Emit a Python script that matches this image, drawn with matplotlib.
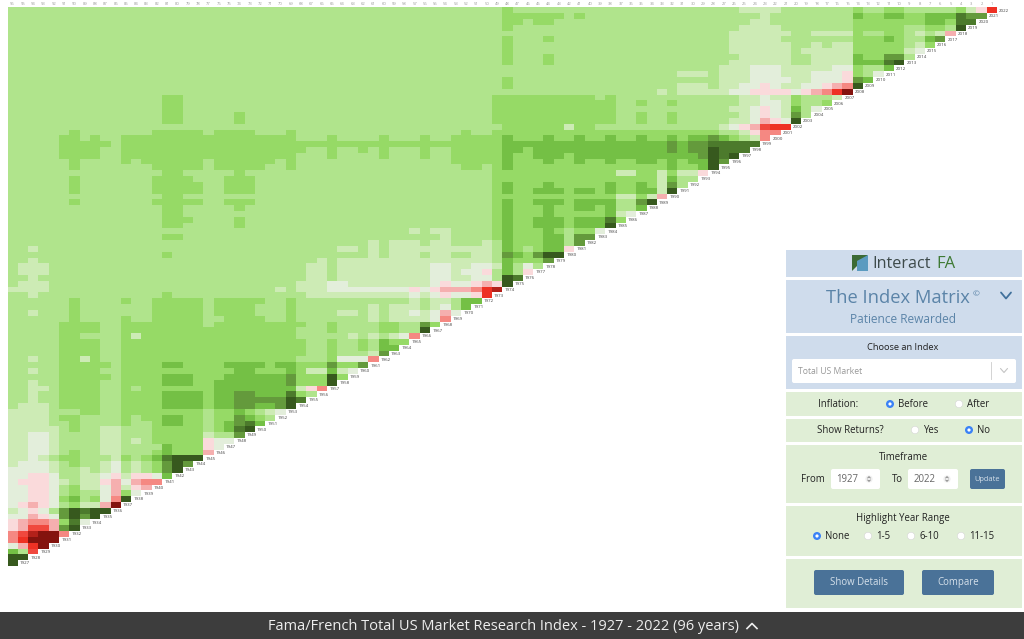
import re
import numpy as np
import matplotlib
matplotlib.use("Agg")
import matplotlib.pyplot as plt
from matplotlib.colors import ListedColormap
from matplotlib.patches import Rectangle, FancyBboxPatch, Circle, Polygon

plt.rcParams["font.family"] = ["Open Sans", "DejaVu Sans"]

# colour grades of the matrix, darkest green to darkest red
grade_letters = "abcdefghijkolmn"
grade_colors = ["#37591e", "#4c7a2c", "#649a3c", "#74c045", "#96da66", "#b0e48c", "#cdebb5",
                "#e3eedb", "#fadadb", "#f5afaf", "#f58882", "#f0483e", "#ee3124", "#b3211a", "#84130e"]
base_grade = "f"

# one string per row, top row first: "from-to grade" for cells that differ from the base grade
matrix_rows = [
    "48e 71-74g 82e 85-86e 92e 93g 94i 95l",
    "48-53e 55e 73g 82d 83-84e 85-86d 87-88e 89-91d 92b 93-94c",
    "48-49e 51-52e 72-73g 82-88e 89-90d 91e 92-93b",
    "48e 71-74g 82-86e 89-90e 92a",
    "70-75g 78-81g 82e 85-86e 88g 90g 91j",
    "48e 52e 70-74g 82-84e 85d 86e 89d 90c",
    "48e 70-75g 78g 80-81g 82-86e 88g 89e",
    "48e 70-75g 77-81g 82-86e 87g 88h",
    "48e 52e 71-75g 78-81g 82d 83-84e 85-86c",
    "48e 52e 70-75g 78-81g 82-84d 85b 86a",
    "69-71g 72-74h 75-79g 80-81h 82e 85d",
    "65-67g 69-71g 72-74h 75-77g 78-80h 81i 82e 84h",
    "48e 69-71g 72-75h 76-77g 78-80h 81i 82c 83d",
    "48e 65-67g 69-70g 71-72h 73i 74h 75-76g 77-78h 79i 80j 81k 82a",
    "63g 65-69g 70-71h 72-75i 76h 77i 78j 79k 80l 81n",
    "15-16e 47-56e 58e 71-72g 73h 74-75g 76e 80g",
    "15-16e 47-58e 61e 64e 71-72g 73-74h 75g 76e 79e",
    "15-16e 47-58e 70-71g 72h 73i 74h 75g 76d 78h",
    "15-16e 22e 47-58e 61e 64e 71g 72h 73i 74h 75g 76c",
    "15-16e 22e 47-58e 61e 64e 70-71g 72h 73j 74i 75h 76a",
    "48-53e 54g 55-56e 69g 70h 71i 72j 73o 74-75l",
    "6e 14-18e 20-23e 27e 44e 47-68e 71g 72i 73-74k",
    "5-6e 8e 11-27e 31e 36e 40e 43-47e 48d 49-51e 52d 53-54e 55d 56-57e 58d 59-60e 61d 62-63e 64d 65e 66-67d 68c 69d 70e 72g 73k",
    "5-9e 11-47e 48-63d 64c 65d 66-67c 68-72b",
    "5-8e 11-28e 31e 34e 36e 40e 43-47e 48-49d 50e 51-63d 64c 65d 66-67c 68a 69-71b",
    "5-8e 11-27e 31e 36e 40e 43-47e 48d 49-50e 51-53d 54e 55-66d 67c 68a 69b 70a",
    "6e 11e 13-18e 20-25e 27e 43-47e 48d 49-51e 52d 53-54e 55d 56-57e 58d 59-60e 61-62d 63e 64d 65e 66-67d 68a 69c",
    "6e 14-18e 20-24e 27e 44-45e 47e 48d 49-63e 64d 65-66e 67d 68a",
    "15-16e 22e 47-58e 59-60g 61-62e 63g 64e 65-66g 67i",
    "6e 14-17e 21-23e 47-62e 63g 64d",
    "6e 14-18e 21-23e 47e 48d 49-51e 52d 53-57e 58d 59-60e 61d 62e 63g 64c",
    "6e 14-18e 21-23e 47e 48d 49-50e 51-53d 54e 55-56d 57e 58d 59-60e 61-62d 63g 64a",
    "15-16e 47-58e 59-60g 61e 62g 63j",
    "6e 14-18e 21-23e 47e 48d 49-50e 51-53d 54e 55-58d 61c 62a",
    "15-16e 22e 47e 48d 49-51e 52d 53-54e 55-56d 57e 58d 61d",
    "15-16e 47e 48d 49-51e 52d 53-57e 58d 59g 60h",
    "15-17e 22e 47e 48d 49-50e 51-53d 54e 55-57d 58b 59e",
    "15-16e 22e 47e 48d 49-50e 51-53d 54e 55-57d 58a",
    "39g 41-42g 47e 48d 49-51e 52d 53e 55-56e 57h",
    "15-16e 42g 47e 48d 49-51e 52-53d 55-56c",
    "35g 37-39g 41-42g 46g 48d 49-51e 52-53d 55c",
    "2g 32-33g 35g 37-46g 48d 49e 51e 52-53d 54i",
    "15e 35g 37-39g 41-42g 45-46g 48c 49d 50e 51c 52-53a",
    "2g 30g 32-46g 48d 49-51e 52c",
    "1-3g 29-30g 32-40g 41-42h 43-44g 45-46h 47g 48d 50h",
    "1-3g 29-30g 32-40g 41-42h 43g 44-45h 46i 48d 50i",
    "2g 29-30g 32-40g 41-42h 43-44g 45-46h 48a 49b",
    "1-3g 28-30g 31-32h 33-40g 41h 42i 43-44h 45i 46j 47i 48a",
    "0-3g 26g 28-30g 31-38h 39i 40h 41i 42-44j 45k 46l 47m",
    "2g 15e 29-30g 31-38g 39h 40g 41h 42i 43-44h 45i 46l",
    "6e 11e 14-18e 20-24e 27e 39g 41-42g 44-45d",
    "6e 14-18e 20-23e 27e 35g 37-39g 41g 42h 44d",
    "2g 6e 14-18e 20-23e 27e 32-33g 35g 37-38g 39h 40g 41h 42j 43h",
    "6e 11e 14-18e 21-24e 27e 35g 37-40g 41h 42k",
    "5-8e 11-18e 20-28e 31e 36-37e 40c 41e",
    "5-8e 11-27e 31e 36-37e 40a",
    "5-6e 11e 12g 13-27e 33g 35g 37g 38h 39k",
    "5-8e 11-28e 31e 34e 36d 37-38e",
    "5-8e 11-28e 31e 34e 36-37d",
    "5-8e 11-28e 31e 35g 36c",
    "2g 5-6e 7g 8e 11-27e 31e 32-34h 35k",
    "5-9e 11-14e 15-16d 17-20e 21-24d 25e 26-27d 28-30e 31c 32-33e 34c",
    "2g 5-8e 11-21e 22-23d 24-26e 27d 28e 29-30g 31d 32g 33h",
    "5-9e 11-14e 15-17d 18-20e 21-26d 27c 28-30e 31a 32e",
    "2g 5-8e 11-14e 15-17d 18-19e 20-26d 27c 28-30e 31a",
    "2-3g 5-8e 11e 13-19e 20-27d 28g 29i 30k",
    "2g 5-8e 11-14e 15-18d 19e 20-21d 22-23c 24-26d 27b 28e",
    "2g 5-8e 11-14e 15-18d 19e 20-21d 22-26c 27a 28b",
    "1-3g 5-8e 11-14e 15-18d 19e 20-21d 22-23c 24-25d 26c 27a",
    "0-3g 7-8e 11-18e 20-21e 22d 23e 25g 26h",
    "0-3g 5-6e 11e 13-14e 15-16d 17-18e 20-21e 22c 23d 24e",
    "0-3g 6e 11e 14e 15-16d 17-18e 20e 21d 22c 23b 24d",
    "0-4g 6e 9-10g 14-18e 20e 21d 22b 23a",
    "0-1g 2-3h 4g 9-10g 14-18e 19g 22c",
    "0-1g 2-3h 4g 9-10g 12g 14-18e 19i 20-21h",
    "0-1g 2-3h 4g 9-10g 15d 16-18e 19i 20h",
    "0-1g 2-3h 4g 6e 9-10g 14e 15d 16-18e 19j",
    "0-1g 2h 3g 5-6e 10g 11e 13e 14d 15b 16-18a",
    "0g 1-3h 4g 6e 9g 10h 12g 14e 15c 16a 17c",
    "0-3h 4g 7g 9g 10h 12g 14e 15c 16a",
    "0-1h 2-3i 4h 7-8g 9h 10i 11g 12-13i 14h 15d",
    "0h 1-3i 4h 5g 7-8g 9i 10j 11h 12j 13-14k",
    "0-1h 2-3i 4h 6e 7-8g 9h 10j 11g 12i 13j",
    "0-1h 2-3i 4h 6e 9h 10j 11e 12h",
    "0-1h 2-3i 4h 5e 6d 8e 9h 10k 11a",
    "0h 1i 2j 3i 4h 6e 7-8g 9j 10n",
    "0g 1h 2i 3h 5c 6a 7b 8-9a",
    "0-1h 2j 3i 4h 5c 6a 7c 8a",
    "0i 1j 2-3k 4j 5e 6b 7h",
    "0i 1j 2-3o 4j 5c 6a",
    "0k 1o 2m 3-4n 5k",
    "0k 1l 2-4n",
    "0h 1j 2l 3n",
    "0d 2o",
    "0-1a",
    "0a",
]
row_years = list(range(2022, 1926, -1))
header_labels = list(range(96, 0, -1))

n = len(matrix_rows)
cells = np.full((n, n), np.nan)
for r, spec in enumerate(matrix_rows):
    cells[r, :n - r] = grade_letters.index(base_grade)
    for a, b, g in re.findall(r"(\d+)(?:-(\d+))?([a-o])", spec):
        cells[r, int(a):int(b or a) + 1] = grade_letters.index(g)
cells = np.ma.masked_invalid(cells)

W, H = 1024, 639
fig = plt.figure(figsize=(W / 100, H / 100), dpi=100, facecolor="white")

ax = fig.add_axes([7.5 / W, 1 - 566 / H, 989.5 / W, 558.7 / H])
ax.pcolormesh(np.arange(n + 1), np.arange(n + 1), cells, cmap=ListedColormap(grade_colors),
              vmin=-0.5, vmax=len(grade_colors) - 0.5, linewidth=0, antialiased=False)
ax.set_xlim(0, n)
ax.set_ylim(n, 0)
ax.xaxis.tick_top()
ax.set_xticks(np.arange(n) + 0.5, header_labels, fontsize=3, color="#999999")
ax.tick_params(axis="x", length=0, pad=0.8)
ax.set_yticks([])
for s in ax.spines.values():
    s.set_visible(False)
for r, year in enumerate(row_years):
    ax.text(n - r + 0.2, r + 0.55, str(year), fontsize=3.2, color="#444444", va="center", ha="left",
            bbox=dict(fc="white", ec="none", pad=0.5), clip_on=False)

# side panel and footer, drawn in pixels
ui = fig.add_axes([0, 0, 1, 1], facecolor="none")
ui.set_xlim(0, W)
ui.set_ylim(H, 0)
ui.axis("off")

BLUE_PANEL = "#cfdcec"
GREEN_PANEL = "#e0eed6"
panels = [(250, 277, BLUE_PANEL), (280, 333, BLUE_PANEL), (336, 389, BLUE_PANEL), (392, 416, GREEN_PANEL),
          (419, 442, GREEN_PANEL), (445, 503, GREEN_PANEL), (506, 556, GREEN_PANEL), (559, 608, GREEN_PANEL)]
for top, bottom, col in panels:
    ui.add_patch(Rectangle((785.7, top), 236.3, bottom - top, fc=col, ec="none"))
ui.add_patch(Rectangle((0, 612), W, 27, fc="#3d3d3d", ec="none"))


def label(x, y, s, size=6.9, color="#222222", ha="center", **kw):
    ui.text(x, y + 0.7, s, fontsize=size, color=color, ha=ha, va="center", **kw)


def box(x0, y0, x1, y1, fc, ec="none"):
    ui.add_patch(FancyBboxPatch((x0 + 2, y0 + 2), x1 - x0 - 4, y1 - y0 - 4, boxstyle="round,pad=2",
                                fc=fc, ec=ec, lw=0.5))


def radio(x, y, on=False):
    if on:
        ui.add_patch(Circle((x, y), 4, fc="#3b82f6", ec="none"))
        ui.add_patch(Circle((x, y), 1.6, fc="white", ec="none"))
    else:
        ui.add_patch(Circle((x, y), 3.7, fc="white", ec="#d5d5d5", lw=0.4))


def chevron(x, y, w, h, color, lw=1.2):
    ui.plot([x - w, x, x + w], [y - h, y + h, y - h], color=color, lw=lw, solid_capstyle="round")


# logo
ui.add_patch(Polygon([(852, 255), (868, 255), (852, 271)], fc="#3c6b35", ec="none"))
ui.add_patch(Polygon([(857, 271), (857, 261), (868, 255), (868, 271)], fc="#5b9bc0", ec="none"))
label(872, 263, "Interact", size=11.6, color="#3d4a4a", ha="left")
label(936, 263, "FA", size=12, color="#3f7a35", ha="left")

label(898, 297.5, "The Index Matrix", size=13.2, color="#5b84a8")
label(976, 294.5, "\u00a9", size=6, color="#5b84a8")
chevron(1006, 295.5, 5, 3, "#41719c", lw=1.3)
label(903, 319, "Patience Rewarded", size=8.6, color="#5b84a8")

label(903, 347, "Choose an Index", size=6.7)
box(792, 359, 1016, 383, "white")
label(798, 370.5, "Total US Market", size=6.2, color="#999999", ha="left")
ui.plot([991, 991], [362, 379], color="#cccccc", lw=0.6)
chevron(1004, 370.5, 3.5, 2, "#c4c4c4", lw=0.8)

label(838, 404, "Inflation:")
radio(890, 404, True)
label(898, 404, "Before", ha="left")
radio(959, 404)
label(967, 404, "After", ha="left")

label(850, 430, "Show Returns?")
radio(915, 430)
label(923, 430, "Yes", ha="left")
radio(969, 430, True)
label(977, 430, "No", ha="left")

label(903, 457, "Timeframe")
label(813, 479, "From")
box(831, 469, 880, 489, "white")
label(847, 479, "1927", color="#666666")
label(897, 479, "To")
box(908, 469, 958, 489, "white")
label(925, 479, "2022", color="#666666")
for x in (869, 947):
    ui.add_patch(Circle((x, 479), 3.6, fc="#eeeeee", ec="none"))
    ui.plot([x - 1.3, x, x + 1.3], [478, 476.6, 478], color="#666666", lw=0.5)
    ui.plot([x - 1.3, x, x + 1.3], [480, 481.4, 480], color="#666666", lw=0.5)
box(970, 469, 1005, 489, "#4a7298")
label(987.5, 479, "Update", size=5.4, color="#d5e0ea")

label(903, 518, "Highlight Year Range")
radio(817, 536, True)
label(825, 536, "None", ha="left")
radio(868, 536)
label(876, 536, "1-5", ha="left")
radio(911, 536)
label(920, 536, "6-10", ha="left")
radio(961, 536)
label(969, 536, "11-15", ha="left")

box(814, 570, 904, 595, "#4a7298")
label(859, 582, "Show Details", color="#d5e0ea")
box(922, 570, 994, 595, "#4a7298")
label(958, 582, "Compare", color="#d5e0ea")

label(503, 625.5, "Fama/French Total US Market Research Index - 1927 - 2022 (96 years)", size=10.55, color="#eeeeee")
ui.plot([747, 752, 757], [628.5, 623.5, 628.5], color="#eeeeee", lw=1.2)

fig.savefig("out.png", dpi=100)
